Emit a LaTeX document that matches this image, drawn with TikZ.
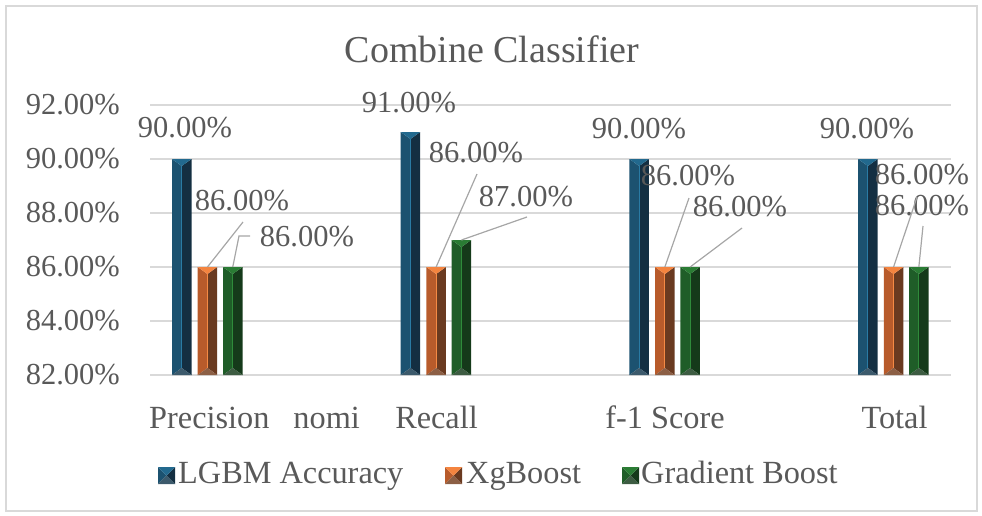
\documentclass[tikz,border=0pt]{standalone}
\usepackage{fontspec}
\setmainfont{Liberation Serif}
\usepackage{xcolor}
\usepackage{tikz}
\usetikzlibrary{positioning}

\definecolor{txtgray}{HTML}{595959}
\definecolor{gridgray}{HTML}{D9D9D9}
\definecolor{leadgray}{HTML}{A6A6A6}
\definecolor{lgbmL}{HTML}{1C5270}
\definecolor{lgbmR}{HTML}{142F42}
\definecolor{lgbmT}{HTML}{22698E}
\definecolor{lgbmB}{HTML}{3C5A6C}
\definecolor{lgbmH}{HTML}{2A7BA4}
\definecolor{xgbL}{HTML}{B85B2B}
\definecolor{xgbR}{HTML}{6A3A20}
\definecolor{xgbT}{HTML}{F4843F}
\definecolor{xgbB}{HTML}{8C5F45}
\definecolor{xgbH}{HTML}{F58A45}
\definecolor{gbL}{HTML}{1F5D28}
\definecolor{gbR}{HTML}{153A1A}
\definecolor{gbT}{HTML}{2A7C34}
\definecolor{gbB}{HTML}{3D5C42}
\definecolor{gbH}{HTML}{2F8B3B}

\begin{document}
\begin{tikzpicture}[x=1pt, y=-1pt]
        % stijlen
        \tikzstyle{lbl} = [font=\fontsize{30.5}{36}\selectfont, text=txtgray, inner sep=0pt]
        \tikzstyle{cat} = [font=\fontsize{32.3}{38}\selectfont, text=txtgray, inner sep=0pt]
        \tikzstyle{ttl} = [font=\fontsize{38}{44}\selectfont, text=txtgray, inner sep=0pt]
        \tikzstyle{grid} = [gridgray, line width=1.5pt]
        \tikzstyle{leader} = [leadgray, line width=1.2pt]
        % balk met schuine randen: x0, breedte, boven, onder, diepte, kleur
        \newcommand{\bevelbox}[6]{%
            \pgfmathsetmacro{\bvx}{#1+#2}\pgfmathsetmacro{\bvm}{#1+#2/2}%
            \pgfmathsetmacro{\bvt}{#3+#5}\pgfmathsetmacro{\bvb}{#4-#5}%
            \fill[#6L] (#1,#4) -- (#1,#3) -- (\bvm,\bvt) -- (\bvm,\bvb) -- cycle;
            \fill[#6R] (\bvx,#4) -- (\bvx,#3) -- (\bvm,\bvt) -- (\bvm,\bvb) -- cycle;
            \fill[#6T] (#1,#3) -- (\bvx,#3) -- (\bvm,\bvt) -- cycle;
            \fill[#6B] (#1,#4) -- (\bvx,#4) -- (\bvm,\bvb) -- cycle;
        }

        \useasboundingbox (0,0) rectangle (982,515);
        \draw[gridgray, line width=1.5pt] (6,6) rectangle (977,511);

        % titel
        \node (title) [ttl, anchor=base] at (492,62) {Combine Classifier};

        % rasterlijnen en as
        \foreach \v [count=\k from 0] in {82,84,86,88,90,92} {
            \pgfmathsetmacro{\gy}{375-\k*54}
            \draw[grid] (150,\gy) -- (951,\gy);
            \node (ax\v) [lbl, anchor=east] at (120,\gy) {\v.00\%};
        }

        % balken
        \foreach \i/\va/\vb/\vc in {0/90/86/86, 1/91/86/87, 2/90/86/86, 3/90/86/86} {
            \pgfmathsetmacro{\xa}{172+\i*228.7}
            \pgfmathsetmacro{\ya}{375-(\va-82)*27}
            \pgfmathsetmacro{\yb}{375-(\vb-82)*27}
            \pgfmathsetmacro{\yc}{375-(\vc-82)*27}
            \bevelbox{\xa}{19.5}{\ya}{375}{7}{lgbm}
            \draw[lgbmH, line width=1.2pt] (\xa+9.75,\ya+7) -- (\xa+9.75,368);
            \bevelbox{\xa+25.7}{19.5}{\yb}{375}{7}{xgb}
            \draw[xgbH, line width=1.2pt] (\xa+35.45,\yb+7) -- (\xa+35.45,368);
            \bevelbox{\xa+51}{19.5}{\yc}{375}{7}{gb}
            \draw[gbH, line width=1.2pt] (\xa+60.75,\yc+7) -- (\xa+60.75,368);
            \coordinate (xgbtop\i) at (\xa+35.45,\yb);
            \coordinate (gbtop\i) at (\xa+60.75,\yc);
        }

        % waardelabels
        \node (v1a) [lbl] at (185,128) {90.00\%};
        \node (v1b) [lbl] at (242,201) {86.00\%};
        \node (v1c) [lbl] at (307,237) {86.00\%};
        \node (v2a) [lbl] at (409,103) {91.00\%};
        \node (v2b) [lbl] at (476,153) {86.00\%};
        \node (v2c) [lbl] at (526,197) {87.00\%};
        \node (v3a) [lbl] at (639,129) {90.00\%};
        \node (v3b) [lbl] at (688,176) {86.00\%};
        \node (v3c) [lbl] at (740,207) {86.00\%};
        \node (v4a) [lbl] at (867,129) {90.00\%};
        \node (v4b) [lbl] at (922,175) {86.00\%};
        \node (v4c) [lbl] at (922,206) {86.00\%};

        % verbindingslijnen
        \coordinate (l1b) at (243,222);
        \coordinate (l1c) at (250,236);
        \coordinate (l2b) at (477,174);
        \coordinate (l2c) at (527,217);
        \coordinate (l3b) at (689,198);
        \coordinate (l3c) at (742,228);
        \coordinate (l4b) at (917,197);
        \coordinate (l4c) at (923,226);
        \draw[leader] (l1b) -- (xgbtop0);
        \draw[leader] (l1c) -- ++(-11,0) -- (gbtop0);
        \draw[leader] (l2b) -- (xgbtop1);
        \draw[leader] (l2c) -- (gbtop1);
        \draw[leader] (l3b) -- (xgbtop2);
        \draw[leader] (l3c) -- (gbtop2);
        \draw[leader] (l4b) -- (xgbtop3);
        \draw[leader] (l4c) -- (gbtop3);

        % categorieen
        \node (c1) [cat, anchor=base west] at (149,428) {Precision\hspace{16pt} nomi};
        \node (c2) [cat, anchor=base] at (436.5,428) {Recall};
        \node (c3) [cat, anchor=base] at (665,428) {f-1 Score};
        \node (c4) [cat, anchor=base] at (894.5,428) {Total};

        % legenda
        \bevelbox{158}{17}{467}{484}{8.5}{lgbm}
        \node (leg1) [cat, anchor=base west] at (178,483) {LGBM Accuracy};
        \bevelbox{445}{17}{467}{484}{8.5}{xgb}
        \node (leg2) [cat, anchor=base west] at (466,483) {XgBoost};
        \bevelbox{622}{17}{467}{484}{8.5}{gb}
        \node (leg3) [cat, anchor=base west] at (641,483) {Gradient Boost};

    \end{tikzpicture}
\end{document}
